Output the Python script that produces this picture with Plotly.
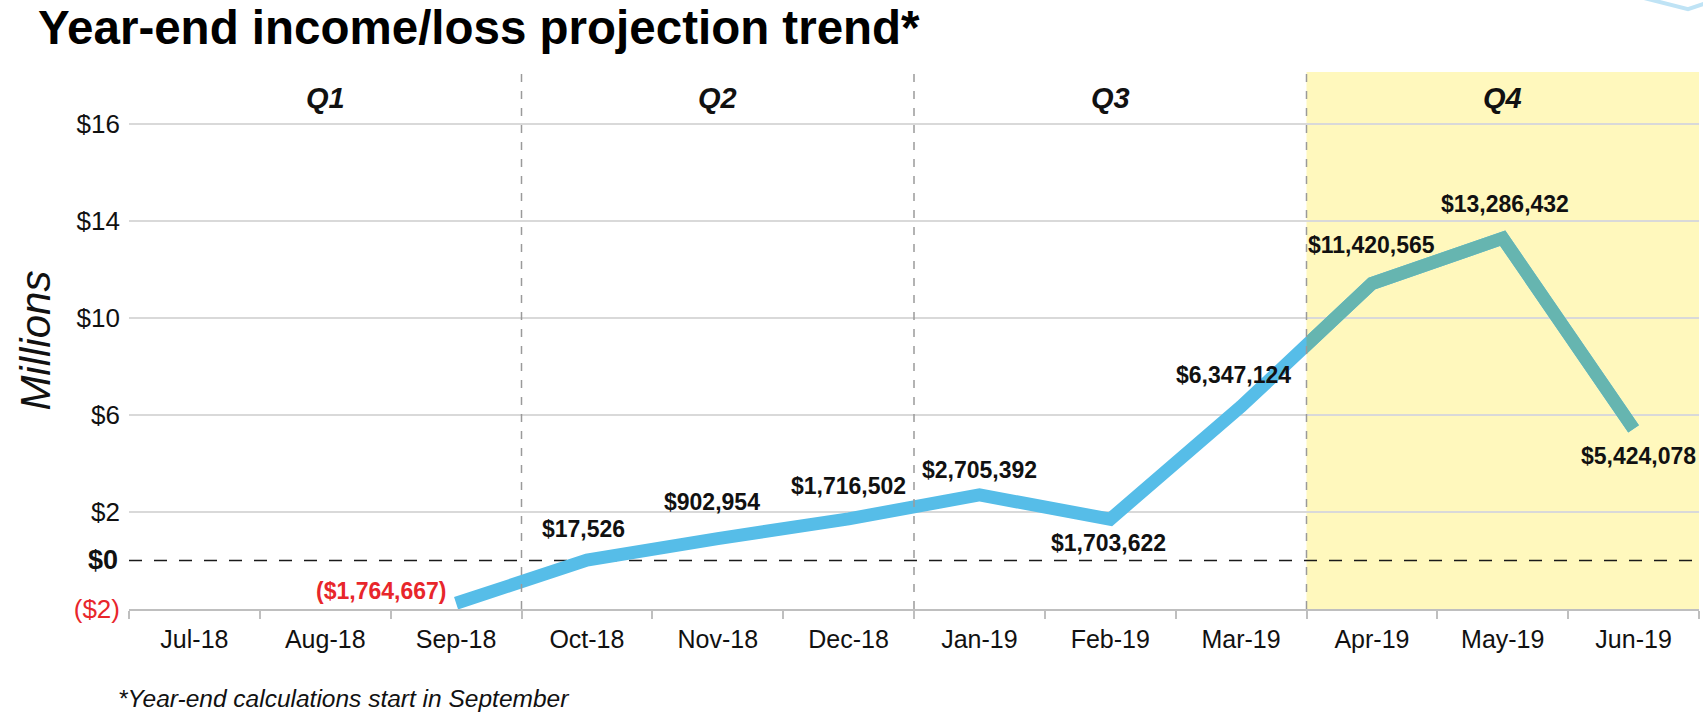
import plotly.graph_objects as go

# ---------------- data ----------------
months = ["Jul-18", "Aug-18", "Sep-18", "Oct-18", "Nov-18", "Dec-18",
          "Jan-19", "Feb-19", "Mar-19", "Apr-19", "May-19", "Jun-19"]
projection = [None, None, -1764667, 17526, 902954, 1716502,
              2705392, 1703622, 6347124, 11420565, 13286432, 5424078]
quarters = ["Q1", "Q2", "Q3", "Q4"]
ytick_vals = [-2, 2, 6, 10, 14, 18]
ytick_text = ["($2)", "$2", "$6", "$10", "$14", "$16"]
title_text = "Year-end income/loss projection trend*"
footnote_text = "*Year-end calculations start in September"

# ---------------- styles ----------------
SANS = "Liberation Sans, Arial, sans-serif"
BLUE = "#56BDE8"
TEAL = "#66B5B0"
YELLOW = "#FFF8BD"
RED = "#E8262B"
GRID = "#D9D9D9"

# label offsets (xshift, yshift, xanchor) per month
label_style = [None, None, (-8, 12, "right"), (-3, 31, "center"), (-6, 37, "center"),
               (0, 33, "center"), (0, 25, "center"), (-2, -24, "center"),
               (-8, 32, "center"), (0, 38, "center"), (2, 34, "center"), (5, -27, "center")]

vals_m = [None if v is None else v / 1e6 for v in projection]
n = len(months)

def fmt(v):
    return "(${:,})".format(-v) if v < 0 else "${:,}".format(v)

fig = go.Figure()

# main line (blue)
fig.add_trace(go.Scatter(
    x=months, y=vals_m, mode="lines",
    line=dict(color=BLUE, width=13), hoverinfo="skip", showlegend=False,
    connectgaps=False,
))

# Q4 overlay line (teal), clipped to the Q4 subplot
q4_start = 8
fig.add_trace(go.Scatter(
    x=list(range(q4_start, n)), y=vals_m[q4_start:], mode="lines",
    line=dict(color=TEAL, width=13), hoverinfo="skip", showlegend=False,
    xaxis="x2", yaxis="y2",
))

yrange = [-2, 20.14]

fig.update_layout(
    width=1703, height=718,
    margin=dict(l=129, r=4, t=72, b=109),
    paper_bgcolor="white", plot_bgcolor="rgba(0,0,0,0)",
    showlegend=False,
    xaxis=dict(
        type="category", categoryarray=months, range=[-0.5, n - 0.5],
        showgrid=False, zeroline=False,
        showline=True, linecolor="#BFBFBF", linewidth=1.5,
        ticks="outside", tickson="boundaries", ticklen=8, tickcolor="#BFBFBF", tickwidth=1.5,
        tickfont=dict(family=SANS, size=25, color="#111111"),
        ticklabelstandoff=7,
        domain=[0, 1],
    ),
    yaxis=dict(
        range=yrange, tickmode="array", tickvals=ytick_vals,
        ticktext=[("<span style='color:%s'>%s</span>" % (RED, t)) if v < 0 else t
                  for v, t in zip(ytick_vals, ytick_text)],
        showgrid=True, gridcolor=GRID, gridwidth=1.5,
        zeroline=False, showline=False, ticks="",
        tickfont=dict(family=SANS, size=26, color="#111111"),
        ticklabelstandoff=8,
    ),
    xaxis2=dict(domain=[(q4_start + 0.5 + 0.5) / n, 1], range=[q4_start + 0.5, n - 0.5],
                visible=False, anchor="y2"),
    yaxis2=dict(range=yrange, visible=False, overlaying="y", anchor="x2"),
)

shapes = []
# Q4 highlight
shapes.append(dict(type="rect", xref="x", yref="paper", x0=q4_start + 0.5, x1=n - 0.5,
                   y0=0, y1=1, fillcolor=YELLOW, line=dict(width=0), layer="below"))
# zero reference line
shapes.append(dict(type="line", xref="paper", yref="y", x0=0, x1=1, y0=0, y1=0,
                   line=dict(color="#1A1A1A", width=1.5, dash="13px,12px"), layer="between"))
# quarter dividers
for q in range(1, len(quarters)):
    xb = q * 3 - 0.5
    shapes.append(dict(type="line", xref="x", yref="paper", x0=xb, x1=xb, y0=0, y1=1,
                       line=dict(color="#9A9A9A", width=1.5, dash="8px,9px"), layer="above"))
# decorative corner mark
shapes.append(dict(type="path", xref="paper", yref="paper",
                   path="M 0.962,1.14 L 0.993,1.117 L 1.006,1.13",
                   line=dict(color="#BFE3F5", width=4)))
fig.update_layout(shapes=shapes)

ann = []
# data labels
for i, (m, v, st) in enumerate(zip(months, projection, label_style)):
    if v is None:
        continue
    xs, ys, xa = st
    ann.append(dict(x=m, y=v / 1e6, xref="x", yref="y", text="<b>%s</b>" % fmt(v),
                    showarrow=False, xanchor=xa, yanchor="middle", xshift=xs, yshift=ys,
                    font=dict(family=SANS, size=23, color=RED if v < 0 else "#111111")))
# quarter labels
for qi, q in enumerate(quarters):
    ann.append(dict(x=qi * 3 + 1, y=0.9516, xref="x", yref="paper",
                    text="<b><i>%s</i></b>" % q, showarrow=False,
                    xanchor="center", yanchor="middle",
                    font=dict(family=SANS, size=29, color="#111111")))
# $0 label
ann.append(dict(x=0, y=0, xref="paper", yref="y", text="<b>$0</b>", showarrow=False,
                xanchor="right", yanchor="middle", xshift=-9,
                font=dict(family=SANS, size=27, color="#111111")))
# y axis title
ann.append(dict(x=-0.0598, y=0.5, xref="paper", yref="paper", text="<i>Millions</i>",
                showarrow=False, textangle=-90, xanchor="center", yanchor="middle",
                font=dict(family=SANS, size=42, color="#111111")))
# title
ann.append(dict(x=-0.059, y=1.083, xref="paper", yref="paper", text="<b>%s</b>" % title_text,
                showarrow=False, xanchor="left", yanchor="middle",
                font=dict(family=SANS, size=47.5, color="#000000")))
# footnote
ann.append(dict(x=-0.008, y=-0.166, xref="paper", yref="paper", text="<i>%s</i>" % footnote_text,
                showarrow=False, xanchor="left", yanchor="middle",
                font=dict(family=SANS, size=24.5, color="#111111")))
fig.update_layout(annotations=ann)

fig.write_html("out.html", config={"displayModeBar": False},
               post_script="document.body.style.margin='0';")
